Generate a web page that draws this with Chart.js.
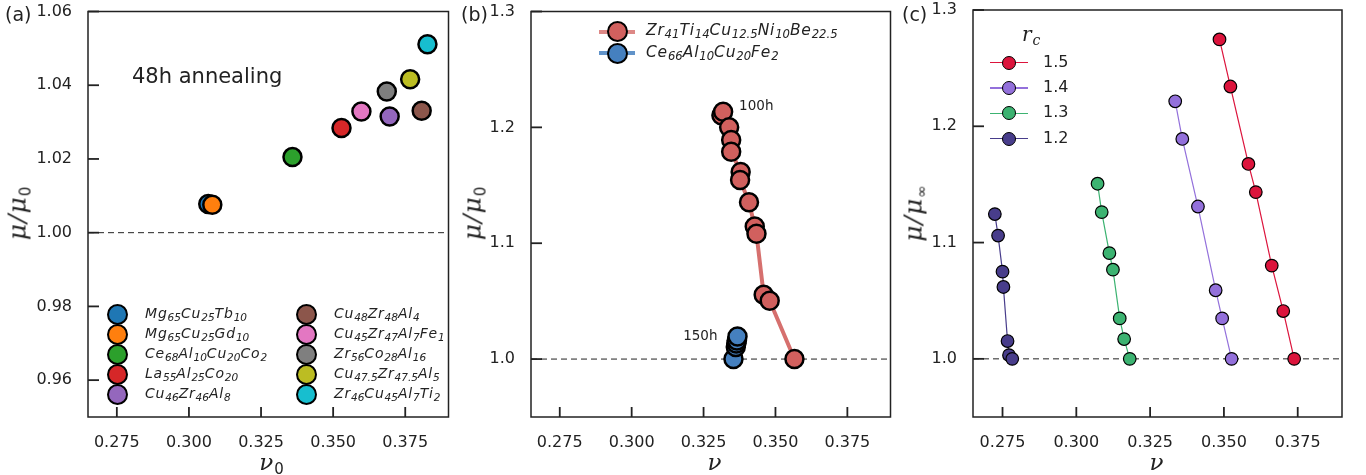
<!DOCTYPE html>
<html>
<head>
<meta charset="utf-8">
<script src="https://cdn.jsdelivr.net/npm/chart.js@4.4.1/dist/chart.umd.min.js"></script>
<style>
  body { margin: 0; background: #fff; }
  #wrap { position: relative; width: 1366px; height: 475px; overflow: hidden;
          font-family: "DejaVu Sans", sans-serif; color: #222; }
  canvas { position: absolute; top: 0; }
  .txt { position: absolute; white-space: nowrap; line-height: 1; }
  .panel { font-size: 19px; }
  .math { font-family: "DejaVu Serif", serif; font-style: italic; font-size: 25px; letter-spacing: 1px; }
  .math sub { font-style: normal; font-family: "DejaVu Sans", sans-serif; font-size: 15px; vertical-align: -0.3em; line-height: 0; }
  .xtitle.math { font-size: 23px; }
  .ytitle { transform: translate(-50%, -50%) rotate(-90deg); }
  .xtitle { transform: translate(-50%, -50%); }
  .legend { position: absolute; }
  .row { position: relative; display: flex; align-items: center; }
  .mk { position: absolute; box-sizing: border-box; border-radius: 50%; border-style: solid; border-color: #000; }
  .ln { position: absolute; }
  .name { position: absolute; font-style: italic; white-space: nowrap; letter-spacing: 0.8px; line-height: 1; }
  .name sub { font-size: 75%; vertical-align: -0.3em; line-height: 0; letter-spacing: 0; }
</style>
</head>
<body>
<div id="wrap">
  <canvas id="chartA" width="460" height="475" style="left:0px"></canvas>
  <canvas id="chartB" width="442" height="475" style="left:460px"></canvas>
  <canvas id="chartC" width="466" height="475" style="left:900px"></canvas>

  <div class="txt panel" style="left:5px;top:5px">(a)</div>
  <div class="txt panel" style="left:461px;top:5px">(b)</div>
  <div class="txt panel" style="left:902px;top:5px">(c)</div>

  <div class="txt" style="left:132px;top:66px;font-size:21px">48h annealing</div>

  <div class="txt math ytitle" style="left:17px;top:213px">μ/μ<sub>0</sub></div>
  <div class="txt math ytitle" style="left:472px;top:213px">μ/μ<sub>0</sub></div>
  <div class="txt math ytitle" style="left:913px;top:213px">μ/μ<sub>∞</sub></div>
  <div class="txt math xtitle" style="left:272px;top:462px">ν<sub>0</sub></div>
  <div class="txt math xtitle" style="left:715px;top:462px">ν</div>
  <div class="txt math xtitle" style="left:1157px;top:462px">ν</div>

  <div class="txt math" style="left:1022px;top:24px;font-size:20px">r<sub style="font-style:italic;font-family:'DejaVu Serif',serif;font-size:14px">c</sub></div>

  <div id="legA1" class="legend" style="left:117px;top:304px"></div>
  <div id="legA2" class="legend" style="left:306px;top:304px"></div>
  <div id="legB" class="legend" style="left:617px;top:21px"></div>
  <div id="legC" class="legend" style="left:1009px;top:50px"></div>
</div>

<script>
// ---- data ----
// panel (a): 48h annealing, one point per alloy
const alloyNames = [
  'Mg_{65}Cu_{25}Tb_{10}', 'Mg_{65}Cu_{25}Gd_{10}', 'Ce_{68}Al_{10}Cu_{20}Co_{2}',
  'La_{55}Al_{25}Co_{20}', 'Cu_{46}Zr_{46}Al_{8}', 'Cu_{48}Zr_{48}Al_{4}',
  'Cu_{45}Zr_{47}Al_{7}Fe_{1}', 'Zr_{56}Co_{28}Al_{16}', 'Cu_{47.5}Zr_{47.5}Al_{5}',
  'Zr_{46}Cu_{45}Al_{7}Ti_{2}'
];
const nu0 = [0.3067, 0.3081, 0.3359, 0.3529, 0.3696, 0.3807, 0.3598, 0.3686, 0.3767, 0.3827];
const muRatio0 = [1.0078, 1.0076, 1.0205, 1.0284, 1.0315, 1.0331, 1.0329, 1.0383, 1.0416, 1.0511];

// panel (b): annealing series
const nameZr = 'Zr_{41}Ti_{14}Cu_{12.5}Ni_{10}Be_{22.5}';
const nuZr = [0.3312, 0.3318, 0.3339, 0.3346, 0.3346, 0.3379, 0.3377, 0.3408, 0.3428, 0.3434, 0.3459, 0.3480, 0.3566];
const muZr = [1.2105, 1.2135, 1.2000, 1.1891, 1.1790, 1.1615, 1.1546, 1.1353, 1.1144, 1.1081, 1.0555, 1.0503, 1.0000];
const nameCe = 'Ce_{66}Al_{10}Cu_{20}Fe_{2}';
const nuCe = [0.3354, 0.3362, 0.3364, 0.3366, 0.3368];
const muCe = [1.0000, 1.0105, 1.0135, 1.0160, 1.0195];
const notesB = [
  { text: '100h', nu: 0.3318, mu: 1.2135 },
  { text: '150h', nu: 0.3368, mu: 1.0195 }
];

// panel (c): simulations for several r_c
const rcLabels = ['1.5', '1.4', '1.3', '1.2'];
const nuRc15 = [0.3485, 0.3522, 0.3583, 0.3608, 0.3662, 0.3701, 0.3738];
const muRc15 = [1.2747, 1.2342, 1.1676, 1.1434, 1.0802, 1.0411, 1.0000];
const nuRc14 = [0.3335, 0.3359, 0.3412, 0.3472, 0.3494, 0.3526];
const muRc14 = [1.2215, 1.1891, 1.1310, 1.0590, 1.0348, 1.0000];
const nuRc13 = [0.3072, 0.3086, 0.3112, 0.3124, 0.3147, 0.3162, 0.3181];
const muRc13 = [1.1506, 1.1262, 1.0909, 1.0767, 1.0348, 1.0170, 1.0000];
const nuRc12 = [0.2724, 0.2735, 0.2750, 0.2753, 0.2767, 0.2772, 0.2783];
const muRc12 = [1.1245, 1.1060, 1.0750, 1.0618, 1.0153, 1.0032, 1.0000];

// ticks and reference level
const xTicks = [0.275, 0.300, 0.325, 0.350, 0.375];
const yTicksA = [0.96, 0.98, 1.00, 1.02, 1.04, 1.06];
const yTicksBC = [1.0, 1.1, 1.2, 1.3];
const refLevel = 1.0;

// ---- styles ----
const tab10 = ['#1f77b4', '#ff7f0e', '#2ca02c', '#d62728', '#9467bd',
               '#8c564b', '#e377c2', '#7f7f7f', '#bcbd22', '#17becf'];
const rcColors = ['#dc143c', '#9370db', '#3cb371', '#483d8b'];
const zrColor = '#d1605e', ceColor = '#4580bf';
const tickFont = { family: 'DejaVu Sans', size: 16 };

function pts(xs, ys) { return xs.map((v, i) => ({ x: v, y: ys[i] })); }
function sub(s) { return s.replace(/_\{([^}]*)\}/g, '<sub>$1</sub>'); }

// dashed y=1 line, box frame and inward tick marks
function framePlugin(yTicks) {
  return {
    id: 'frame',
    beforeDatasetsDraw(chart) {
      const { ctx, chartArea: a, scales } = chart;
      const yp = scales.y.getPixelForValue(refLevel);
      ctx.save();
      ctx.setLineDash([6, 4]);
      ctx.lineWidth = 1;
      ctx.strokeStyle = '#222';
      ctx.beginPath(); ctx.moveTo(a.left, yp); ctx.lineTo(a.right, yp); ctx.stroke();
      ctx.restore();
    },
    afterDraw(chart) {
      const { ctx, chartArea: a, scales } = chart;
      ctx.save();
      ctx.setLineDash([]);
      ctx.strokeStyle = '#222';
      ctx.lineWidth = 1.5;
      ctx.strokeRect(a.left, a.top, a.right - a.left, a.bottom - a.top);
      ctx.lineWidth = 1.8;
      for (const v of xTicks) {
        const px = scales.x.getPixelForValue(v);
        ctx.beginPath(); ctx.moveTo(px, a.bottom); ctx.lineTo(px, a.bottom - 10); ctx.stroke();
      }
      for (const v of yTicks) {
        const py = scales.y.getPixelForValue(v);
        ctx.beginPath(); ctx.moveTo(a.left, py); ctx.lineTo(a.left + 11, py); ctx.stroke();
      }
      ctx.restore();
    }
  };
}

// no extra scale padding: chart area is set by layout padding and fixed scale sizes
function fixX(s) { s.height = 58; s.paddingLeft = 0; s.paddingRight = 0; }
function fixY(w) { return s => { s.width = w; s.paddingTop = 0; s.paddingBottom = 0; }; }

function baseOptions(yMin, yMax, yTicks, yDigits, yWidth, padRight) {
  return {
    responsive: false,
    animation: false,
    devicePixelRatio: 1,
    layout: { padding: { top: 10, right: padRight, left: 0, bottom: 0 } },
    plugins: { legend: { display: false }, tooltip: { enabled: false } },
    scales: {
      x: {
        type: 'linear', min: 0.265, max: 0.39,
        grid: { display: false }, border: { display: false },
        afterBuildTicks: s => { s.ticks = xTicks.map(v => ({ value: v })); },
        afterFit: fixX,
        ticks: { font: tickFont, color: '#222', padding: 8, autoSkip: false, maxRotation: 0,
                 callback: v => v.toFixed(3) }
      },
      y: {
        type: 'linear', min: yMin, max: yMax,
        grid: { display: false }, border: { display: false },
        afterBuildTicks: s => { s.ticks = yTicks.map(v => ({ value: v })); },
        afterFit: fixY(yWidth),
        ticks: { font: tickFont, color: '#222', padding: 8, autoSkip: false,
                 callback: v => v.toFixed(yDigits) }
      }
    }
  };
}

// ---- panel (a) ----
new Chart(document.getElementById('chartA'), {
  type: 'scatter',
  data: {
    datasets: alloyNames.map((n, i) => ({
      label: n,
      data: [{ x: nu0[i], y: muRatio0[i] }],
      order: alloyNames.length - i,
      pointRadius: 9, pointBorderWidth: 2.5,
      pointBackgroundColor: tab10[i], pointBorderColor: '#000'
    }))
  },
  options: baseOptions(0.95, 1.06, yTicksA, 2, 88, 4),
  plugins: [framePlugin(yTicksA)]
});

// ---- panel (b) ----
const notesPlugin = {
  id: 'notes',
  afterDatasetsDraw(chart) {
    const { ctx, scales } = chart;
    ctx.save();
    ctx.font = '13.5px "DejaVu Sans"';
    ctx.fillStyle = '#222';
    ctx.textBaseline = 'middle';
    const offs = [{ dx: 16, dy: -5, align: 'left' }, { dx: -20, dy: 0, align: 'right' }];
    notesB.forEach((n, i) => {
      ctx.textAlign = offs[i].align;
      ctx.fillText(n.text, scales.x.getPixelForValue(n.nu) + offs[i].dx,
                   scales.y.getPixelForValue(n.mu) + offs[i].dy);
    });
    ctx.restore();
  }
};

new Chart(document.getElementById('chartB'), {
  type: 'scatter',
  data: {
    datasets: [
      { label: nameZr, data: pts(nuZr, muZr), showLine: true, order: 2,
        borderColor: 'rgba(209,96,94,0.9)', borderWidth: 4,
        pointRadius: 9, pointBorderWidth: 2.5,
        pointBackgroundColor: zrColor, pointBorderColor: '#000' },
      { label: nameCe, data: pts(nuCe, muCe), showLine: true, order: 1,
        borderColor: 'rgba(69,128,191,0.9)', borderWidth: 4,
        pointRadius: 9, pointBorderWidth: 2.5,
        pointBackgroundColor: ceColor, pointBorderColor: '#000' }
    ]
  },
  options: baseOptions(0.95, 1.3, yTicksBC, 1, 71, 3),
  plugins: [framePlugin(yTicksBC), notesPlugin]
});

// ---- panel (c) ----
const rcSeries = [[nuRc15, muRc15], [nuRc14, muRc14], [nuRc13, muRc13], [nuRc12, muRc12]];
new Chart(document.getElementById('chartC'), {
  type: 'scatter',
  data: {
    datasets: rcSeries.map((s, i) => ({
      label: rcLabels[i], data: pts(s[0], s[1]), showLine: true,
      borderColor: rcColors[i], borderWidth: 1.2,
      pointRadius: 6.3, pointBorderWidth: 1.2,
      pointBackgroundColor: rcColors[i], pointBorderColor: '#000'
    }))
  },
  options: baseOptions(0.95, 1.3, yTicksBC, 1, 73, 24),
  plugins: [framePlugin(yTicksBC)]
});

// ---- html legends ----
function legendRow(label, fill, line, size, border, lineW, lineLen, rowH, textX, fontSize, plain) {
  let html = '<div class="row" style="height:' + rowH + 'px">';
  if (line) {
    html += '<div class="ln" style="left:' + (-lineLen / 2) + 'px;width:' + lineLen + 'px;height:' + lineW +
            'px;top:' + (rowH - lineW) / 2 + 'px;background:' + line + '"></div>';
  }
  html += '<div class="mk" style="left:' + (-size / 2) + 'px;top:' + (rowH - size) / 2 + 'px;width:' + size +
          'px;height:' + size + 'px;border-width:' + border + 'px;background:' + fill + '"></div>';
  html += '<div class="name" style="left:' + textX + 'px;top:' + (rowH / 2 - fontSize * 0.55) + 'px;font-size:' +
          fontSize + 'px' + (plain ? ';font-style:normal;letter-spacing:0' : '') + '">' + label + '</div></div>';
  return html;
}

let a1 = '', a2 = '';
alloyNames.forEach((n, i) => {
  const r = legendRow(sub(n), tab10[i], null, 21, 2.5, 0, 0, 20, 28, 14);
  if (i < 5) a1 += r; else a2 += r;
});
document.getElementById('legA1').innerHTML = a1;
document.getElementById('legA2').innerHTML = a2;

document.getElementById('legB').innerHTML =
  legendRow(sub(nameZr), zrColor, 'rgba(209,96,94,0.75)', 21, 2.5, 4, 36, 21.5, 29, 15.5) +
  legendRow(sub(nameCe), ceColor, 'rgba(69,128,191,0.85)', 21, 2.5, 4, 36, 21.5, 29, 15.5);

let c = '';
rcLabels.forEach((l, i) => {
  c += legendRow(l, rcColors[i], rcColors[i], 14, 1.2, 1.2, 38, 25.3, 34, 16, true);
});
document.getElementById('legC').innerHTML = c;
</script>
</body>
</html>
